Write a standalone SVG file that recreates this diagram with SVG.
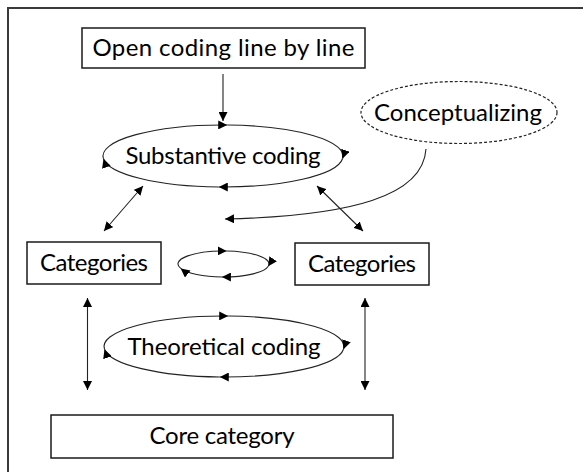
<svg xmlns="http://www.w3.org/2000/svg" width="583" height="472" viewBox="0 0 583 472">
<style>
  .box { fill: #ffffff; stroke: #1a1a1a; stroke-width: 1.5; }
  .lbl { font-family: Lato, "Open Sans", "Liberation Sans", sans-serif; font-size: 24px; fill: #000000; text-anchor: middle; }
  .cyc { fill: none; stroke: #222222; stroke-width: 1.1; marker-end: url(#ah); }
  .con { fill: none; stroke: #222222; stroke-width: 1.1; }
  .dbl { marker-start: url(#ahs); marker-end: url(#ah); }
  .one { marker-end: url(#ah); }
  .frame { fill: none; stroke: #3a3a3a; stroke-width: 2; }
</style>
<defs>
  <marker id="ah" markerUnits="userSpaceOnUse" markerWidth="10" markerHeight="9" refX="9" refY="4.5" orient="auto">
    <path d="M0,0 L9,4.5 L0,9 Z" fill="#000000"/>
  </marker>
  <marker id="ahs" markerUnits="userSpaceOnUse" markerWidth="10" markerHeight="9" refX="9" refY="4.5" orient="auto-start-reverse">
    <path d="M0,0 L9,4.5 L0,9 Z" fill="#000000"/>
  </marker>
</defs>
<rect width="583" height="472" fill="#ffffff"/>
<path class="frame" d="M8,472 L8,8 L583,8"/>

<g id="open-coding">
  <rect class="box" x="82" y="28" width="283" height="40"/>
  <text class="lbl" x="223.5" y="56" textLength="262">Open coding line by line</text>
</g>

<g id="substantive-coding">
  <path class="cyc" d="M103.5,158.7 A120,31 0 0 1 227.2,125.0"/>
  <path class="cyc" d="M227.2,125.0 A120,31 0 0 1 342.5,158.7"/>
  <path class="cyc" d="M342.5,158.7 A120,31 0 0 1 218.8,187.0"/>
  <path class="cyc" d="M218.8,187.0 A120,31 0 0 1 103.5,158.7"/>
  <text class="lbl" x="223" y="164" textLength="195">Substantive coding</text>
</g>

<g id="conceptualizing">
  <ellipse cx="459" cy="112.5" rx="98" ry="31" fill="none" stroke="#222222" stroke-width="1.2" stroke-dasharray="3 2"/>
  <text class="lbl" x="458" y="121" textLength="168">Conceptualizing</text>
</g>

<g id="categories-left">
  <rect class="box" x="27" y="242" width="134" height="42"/>
  <text class="lbl" x="94" y="271" textLength="108">Categories</text>
</g>

<g id="categories-cycle">
  <path class="cyc" d="M180.7,268.4 A45.5,13 0 0 1 226.7,251.0"/>
  <path class="cyc" d="M226.7,251.0 A45.5,13 0 0 1 268.3,266.3"/>
  <path class="cyc" d="M268.3,266.3 A45.5,13 0 0 1 221.9,277.0"/>
  <path class="cyc" d="M221.9,277.0 A45.5,13 0 0 1 180.7,268.4"/>
</g>

<g id="categories-right">
  <rect class="box" x="295" y="243" width="134" height="42"/>
  <text class="lbl" x="362" y="272" textLength="108">Categories</text>
</g>

<g id="theoretical-coding">
  <path class="cyc" d="M104.5,349.2 A120,30.5 0 0 1 228.2,316.0"/>
  <path class="cyc" d="M228.2,316.0 A120,30.5 0 0 1 343.5,349.2"/>
  <path class="cyc" d="M343.5,349.2 A120,30.5 0 0 1 219.8,377.0"/>
  <path class="cyc" d="M219.8,377.0 A120,30.5 0 0 1 104.5,349.2"/>
  <text class="lbl" x="224" y="355" textLength="193">Theoretical coding</text>
</g>

<g id="core-category">
  <rect class="box" x="51" y="415" width="342" height="43"/>
  <text class="lbl" x="222" y="444" textLength="145">Core category</text>
</g>

<g id="connectors">
  <path class="con one" d="M223,74 L223,121"/>
  <path class="con one" d="M426,149 C423,196 352,216 225,219"/>
  <path class="con dbl" d="M143,186 L104,231"/>
  <path class="con dbl" d="M317,186 L363,231"/>
  <path class="con dbl" d="M87.5,298 L87.5,390"/>
  <path class="con dbl" d="M365,298 L365,390"/>
</g>
</svg>
